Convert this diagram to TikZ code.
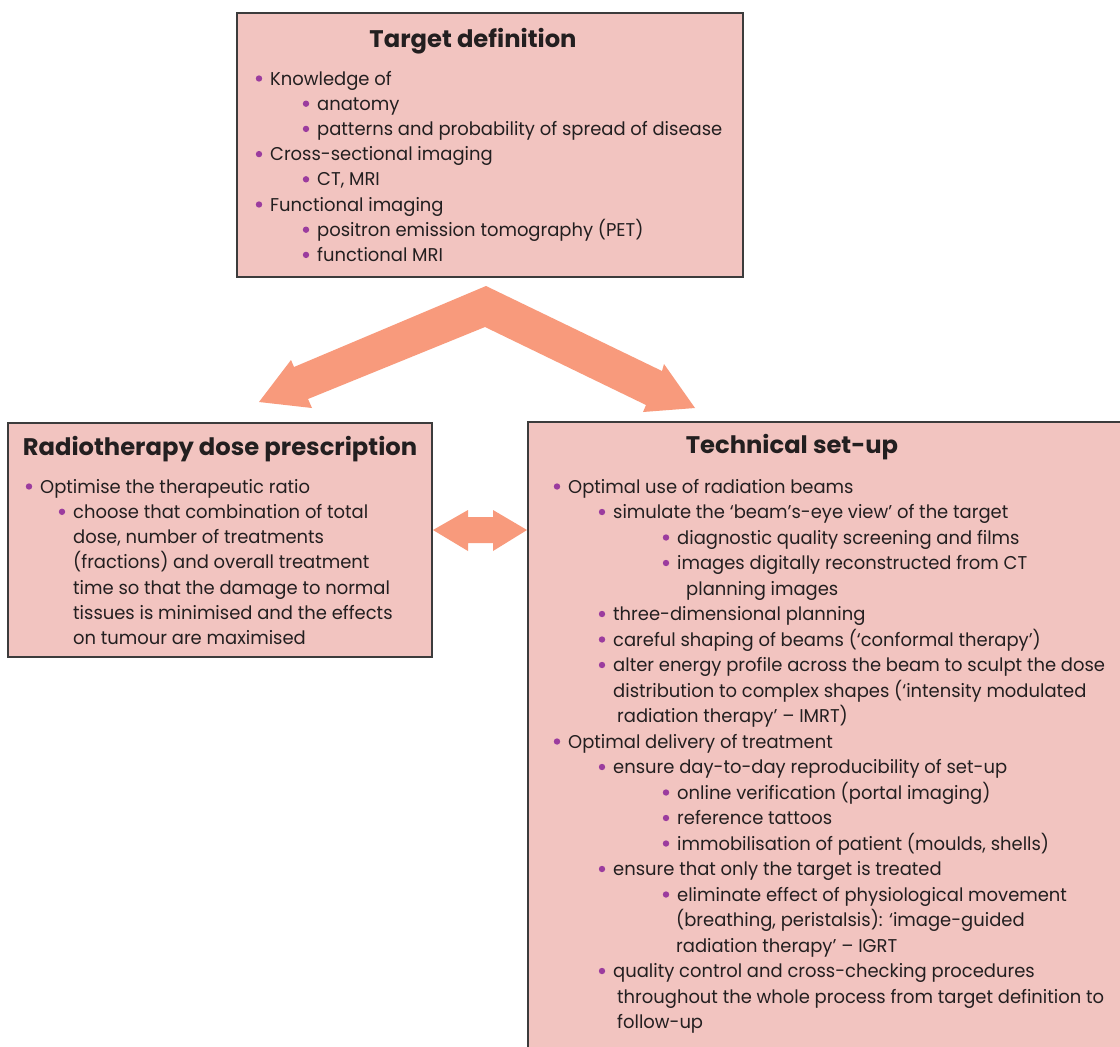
\documentclass[tikz,border=0pt]{standalone}
\usepackage{fontspec}
\setmainfont[FakeStretch=0.97]{Poppins}
\newfontfamily\ttlfont[FakeStretch=1.01]{Poppins}
\definecolor{boxfill}{HTML}{F2C4C0}
\definecolor{arrowfill}{HTML}{F89A7C}
\definecolor{bulletc}{HTML}{9B3C9E}
\definecolor{txtc}{HTML}{231F20}
\definecolor{boxline}{HTML}{3C3C3C}
\tikzset{
  box/.style={draw=boxline, fill=boxfill, line width=1.3pt},
  txt/.style={anchor=base west, inner sep=0pt, font=\fontsize{18.5}{22}\selectfont, text=txtc},
  ttl/.style={anchor=base, inner sep=0pt, font=\ttlfont\fontsize{24}{28}\selectfont\bfseries, text=txtc},
  blockarrow/.style={fill=arrowfill, draw=none},
}
\newcommand\blt[4]{\fill[bulletc] (#2,#3-6.5) circle (3.2pt); \node[txt] (#1) at (#2+11,#3) {#4};}
\newcommand\cnt[4]{\node[txt] (#1) at (#2,#3) {#4};}
\begin{document}
\begin{tikzpicture}[x=1pt,y=-1pt]
\useasboundingbox (0,0) rectangle (1120,1047);
\clip (0,0) rectangle (1120,1047);
\fill[white] (0,0) rectangle (1120,1047);
% boxes
\draw[box] (237,13) rectangle (743,277);
\draw[box] (8,423) rectangle (432,657);
\draw[box] (528,422) rectangle (1130,1060);
% chevron arrow
\fill[blockarrow] (486,286) -- (662,371) -- (664,364) -- (695,408) -- (643,412) -- (646,405)
  -- (485,327) -- (308,399) -- (312,408) -- (259,402) -- (291,360) -- (294,367) -- cycle;
% double arrow
\fill[blockarrow] (433,530) -- (468,510) -- (468,517) -- (493,517) -- (493,510) -- (527,530)
  -- (493,551) -- (493,543) -- (468,543) -- (468,551) -- cycle;
% target definition
\node[ttl] (t0) at (473,47) {Target definition};
\blt{t1}{259}{85}{Knowledge of}
\blt{t2}{306}{85+25.2}{anatomy}
\blt{t3}{306}{85+25.2*2}{patterns and probability of spread of disease}
\blt{t4}{259}{85+25.2*3}{Cross-sectional imaging}
\blt{t5}{306}{85+25.2*4}{CT, MRI}
\blt{t6}{259}{85+25.2*5}{Functional imaging}
\blt{t7}{306}{85+25.2*6}{positron emission tomography (PET)}
\blt{t8}{306}{85+25.2*7}{functional MRI}
% dose prescription
\node[ttl] (d0) at (220,455) {Radiotherapy dose prescription};
\blt{d1}{29}{493}{Optimise the therapeutic ratio}
\blt{d2}{62}{493+25.3}{choose that combination of total}
\cnt{d3}{73}{493+25.3*2}{dose, number of treatments}
\cnt{d4}{73}{493+25.3*3}{(fractions) and overall treatment}
\cnt{d5}{73}{493+25.3*4}{time so that the damage to normal}
\cnt{d6}{73}{493+25.3*5}{tissues is minimised and the effects}
\cnt{d7}{73}{493+25.3*6}{on tumour are maximised}
% technical set-up
\node[ttl] (s0) at (792,453) {Technical set-up};
\blt{s1}{557}{493}{Optimal use of radiation beams}
\blt{s2}{602}{493+25.5}{simulate the ‘beam’s-eye view’ of the target}
\blt{s3}{666}{493+25.5*2}{diagnostic quality screening and films}
\blt{s4}{666}{493+25.5*3}{images digitally reconstructed from CT}
\cnt{s5}{686}{493+25.5*4}{planning images}
\blt{s6}{602}{493+25.5*5}{three-dimensional planning}
\blt{s7}{602}{493+25.5*6}{careful shaping of beams (‘conformal therapy’)}
\blt{s8}{602}{493+25.5*7}{alter energy profile across the beam to sculpt the dose}
\cnt{s9}{613}{493+25.5*8}{distribution to complex shapes (‘intensity modulated}
\cnt{s10}{617}{493+25.5*9}{radiation therapy’ – IMRT)}
\blt{s11}{557}{493+25.5*10}{Optimal delivery of treatment}
\blt{s12}{602}{493+25.5*11}{ensure day-to-day reproducibility of set-up}
\blt{s13}{666}{493+25.5*12}{online verification (portal imaging)}
\blt{s14}{666}{493+25.5*13}{reference tattoos}
\blt{s15}{666}{493+25.5*14}{immobilisation of patient (moulds, shells)}
\blt{s16}{602}{493+25.5*15}{ensure that only the target is treated}
\blt{s17}{666}{493+25.5*16}{eliminate effect of physiological movement}
\cnt{s18}{676}{493+25.5*17}{(breathing, peristalsis): ‘image-guided}
\cnt{s19}{676}{493+25.5*18}{radiation therapy’ – IGRT}
\blt{s20}{602}{493+25.5*19}{quality control and cross-checking procedures}
\cnt{s21}{617}{493+25.5*20}{throughout the whole process from target definition to}
\cnt{s22}{617}{493+25.5*21}{follow-up}
\end{tikzpicture}
\end{document}
